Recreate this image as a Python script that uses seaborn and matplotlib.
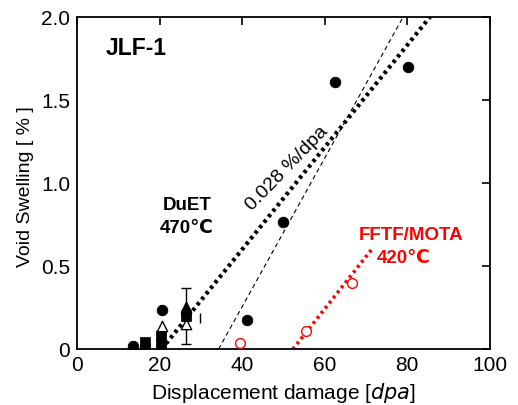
import matplotlib
matplotlib.use("Agg")
import matplotlib.pyplot as plt
import seaborn as sns

# ---- data ----
duet_circle_x = [13.5, 20.5, 26.5, 41.3, 49.8, 62.5, 80.2]
duet_circle_y = [0.02, 0.235, 0.22, 0.175, 0.765, 1.61, 1.70]
duet_square_x = [16.5, 16.5, 20.3, 20.3, 26.3]
duet_square_y = [0.00, 0.04, 0.03, 0.08, 0.20]
duet_tri_open_x = [20.5, 26.5]
duet_tri_open_y = [0.14, 0.15]
duet_tri_fill_x = [26.3]
duet_tri_fill_y = [0.26]
duet_err_x = [20.3, 26.5]
duet_err_y = [0.06, 0.20]
duet_err_e = [0.05, 0.17]
duet_err2_x = [29.8]
duet_err2_y = [0.19]
duet_err2_e = [0.03]
mota_x = [39.6, 55.4, 66.6]
mota_y = [0.035, 0.11, 0.40]
fit_duet_x = [20.5, 85.5]
fit_duet_y = [0.0, 2.0]
fit_thin_x = [34.3, 79.0]
fit_thin_y = [0.0, 2.0]
fit_mota_x = [52.3, 71.7]
fit_mota_y = [0.0, 0.61]
x_ticks = [0, 20, 40, 60, 80, 100]
y_ticks = [0, 0.5, 1.0, 1.5, 2.0]
y_tick_labels = ["0", "0.5", "1.0", "1.5", "2.0"]

sns.set_theme(style="white")
plt.rcParams["font.family"] = ["Liberation Sans", "DejaVu Sans"]
plt.rcParams["text.color"] = "black"
plt.rcParams["axes.labelcolor"] = "black"
plt.rcParams["xtick.color"] = "black"
plt.rcParams["ytick.color"] = "black"

fig = plt.figure(figsize=(5.18, 4.05), dpi=100)
ax = fig.add_axes([0.1486, 0.138, 0.797, 0.820])

# fit lines
sns.lineplot(x=fit_thin_x, y=fit_thin_y, ax=ax, color="black", lw=0.8,
             linestyle=(0, (4, 3)))
sns.lineplot(x=fit_duet_x, y=fit_duet_y, ax=ax, color="black", lw=3.0,
             linestyle=(0, (0.8, 0.9)))
sns.lineplot(x=fit_mota_x, y=fit_mota_y, ax=ax, color="red", lw=2.6,
             linestyle=(0, (0.8, 1.0)))

# error bars
ax.errorbar(duet_err_x, duet_err_y, yerr=duet_err_e, fmt="none", ecolor="black",
            elinewidth=1.0, capsize=3.5, capthick=1.0)
ax.errorbar(duet_err2_x, duet_err2_y, yerr=duet_err2_e, fmt="none",
            ecolor="black", elinewidth=1.0, capsize=0)

# points
sns.scatterplot(x=duet_tri_open_x, y=duet_tri_open_y, ax=ax, marker="^", s=55,
                facecolor="white", edgecolor="black", linewidth=1.0, zorder=3)
sns.scatterplot(x=duet_square_x, y=duet_square_y, ax=ax, marker="s", s=45,
                color="black", edgecolor="black", zorder=4)
sns.scatterplot(x=duet_tri_fill_x, y=duet_tri_fill_y, ax=ax, marker="^", s=50,
                color="black", edgecolor="black", zorder=4)
sns.scatterplot(x=duet_circle_x, y=duet_circle_y, ax=ax, marker="o", s=58,
                color="black", edgecolor="black", zorder=5)
sns.scatterplot(x=mota_x, y=mota_y, ax=ax, marker="o", s=50,
                facecolor="white", edgecolor="red", linewidth=1.0, zorder=5)

ax.set_xlim(0, 100)
ax.set_ylim(0, 2.0)
ax.set_xticks(x_ticks)
ax.set_yticks(y_ticks)
ax.set_yticklabels(y_tick_labels)
ax.tick_params(direction="in", length=6, width=1.2, top=True, right=True,
               labelsize=15, pad=5)
for s in ax.spines.values():
    s.set_linewidth(1.3)
    s.set_color("black")

ax.set_xlabel("Displacement damage [$\\it{dpa}$]", fontsize=15, labelpad=4)
ax.set_ylabel("Void Swelling [ % ]", fontsize=14)
ax.yaxis.set_label_coords(-0.105, 0.49)

ax.text(7.0, 1.81, "JLF-1", fontsize=16.5, fontweight="bold", va="center")
ax.text(26.6, 0.867, "DuET", fontsize=13.5, fontweight="bold",
        ha="center", va="center")
ax.text(26.6, 0.729, "470℃", fontsize=13.5, fontweight="bold",
        ha="center", va="center")
ax.text(51.0, 1.09, "0.028 %/dpa", fontsize=14, rotation=46,
        ha="center", va="center", rotation_mode="anchor")
ax.text(80.9, 0.687, "FFTF/MOTA", fontsize=13.5, fontweight="bold",
        color="red", ha="center", va="center")
ax.text(79.2, 0.548, "420℃", fontsize=13.5, fontweight="bold",
        color="red", ha="center", va="center")

fig.savefig("out.png", dpi=100)
